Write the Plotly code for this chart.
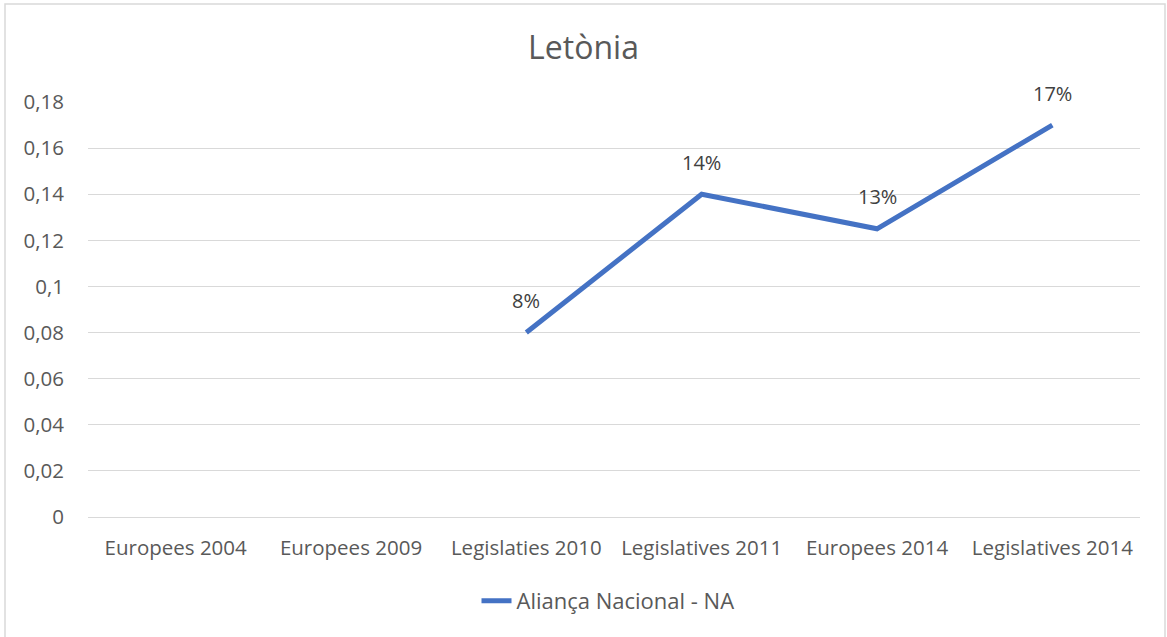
import plotly.graph_objects as go

categories = ["Europees 2004", "Europees 2009", "Legislaties 2010",
              "Legislatives 2011", "Europees 2014", "Legislatives 2014"]
values = [None, None, 0.08, 0.14, 0.125, 0.17]
labels = ["", "", "8%", "14%", "13%", "17%"]
series_name = "Aliança Nacional - NA"
title = "Letònia"

W, H = 1167, 637
ML, MR, MT, MB = 88, 27, 102, 120

FONT = "Open Sans"
fig = go.Figure()
fig.add_trace(go.Scatter(
    x=categories, y=values, mode="lines", name=series_name,
    line=dict(color="#4472C4", width=5), connectgaps=False,
    showlegend=True,
))

for c, v, t in zip(categories, values, labels):
    if v is not None and t:
        fig.add_annotation(x=c, y=v, text=t, showarrow=False, yshift=32,
                           font=dict(family=FONT, size=20, color="#404040"))

pw = W - ML - MR
ph = H - MT - MB
fig.add_shape(type="rect", xref="paper", yref="paper",
              x0=(5 - ML) / pw, x1=(W - 2 - ML) / pw,
              y0=-(H + 5 - MT - ph) / ph, y1=1 + (MT - 4) / ph,
              line=dict(color="#D9D9D9", width=1.5), layer="below")

fig.update_layout(
    width=W, height=H,
    margin=dict(l=ML, r=MR, t=MT, b=MB, pad=0),
    paper_bgcolor="white", plot_bgcolor="white",
    separators=", ",
    title=dict(text=title, x=0.5, xanchor="center", y=1 - 48 / H, yanchor="middle",
               font=dict(family=FONT, size=32, color="#595959")),
    font=dict(family=FONT, size=20, color="#595959"),
    xaxis=dict(type="category", categoryorder="array", categoryarray=categories,
               range=[-0.5, len(categories) - 0.5], showgrid=False, showline=False,
               zeroline=False, ticks="", ticklabelstandoff=16,
               tickfont=dict(size=20.5, color="#595959")),
    yaxis=dict(range=[0, 0.18], dtick=0.02, showgrid=True, gridcolor="#D9D9D9",
               gridwidth=1, zeroline=True, zerolinecolor="#D9D9D9", zerolinewidth=1,
               showline=False, ticks="", ticklabelstandoff=23,
               tickfont=dict(size=20.5, color="#595959")),
    legend=dict(orientation="h", x=(608 - ML) / pw, xanchor="center",
                y=-(601 - (H - MB)) / ph, yanchor="middle",
                font=dict(family=FONT, size=22, color="#595959")),
)

fig.write_html("out.html", config={"displayModeBar": False},
               post_script="document.body.style.margin='0';")
